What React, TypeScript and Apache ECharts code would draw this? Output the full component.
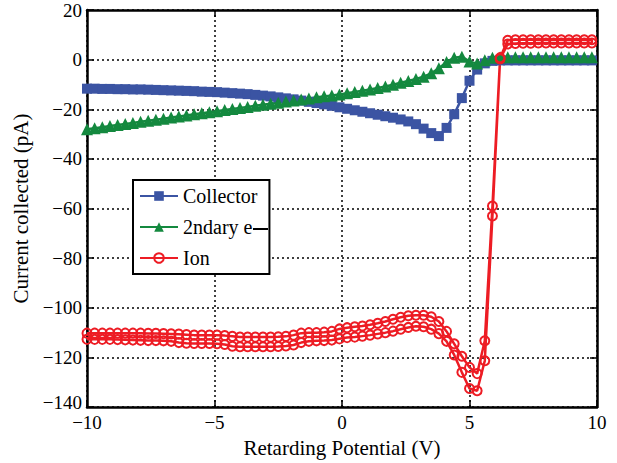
import React, { useEffect, useRef } from "react";
import * as echarts from "echarts";

const potential = [
  -10, -9.7, -9.4, -9.1, -8.8, -8.5, -8.2, -7.9, -7.6, -7.3,
  -7, -6.7, -6.4, -6.1, -5.8, -5.5, -5.2, -4.9, -4.6, -4.3,
  -4, -3.7, -3.4, -3.1, -2.8, -2.5, -2.2, -1.9, -1.6, -1.3,
  -1, -0.7, -0.4, -0.1, 0.2, 0.5, 0.8, 1.1, 1.4, 1.7,
  2, 2.3, 2.6, 2.9, 3.2, 3.5, 3.8, 4.1, 4.4, 4.7,
  5, 5.3, 5.6, 5.9, 6.2, 6.5, 6.8, 7.1, 7.4, 7.7,
  8, 8.3, 8.6, 8.9, 9.2, 9.5, 9.8,
];

const collector = [
  -11.7, -11.7, -11.8, -11.8, -11.9, -11.9, -12.0, -12.0, -12.1, -12.2,
  -12.3, -12.4, -12.5, -12.6, -12.7, -12.9, -13.0, -13.1, -13.3, -13.5,
  -13.7, -13.9, -14.2, -14.5, -14.8, -15.2, -15.6, -16.0, -16.5, -17.0,
  -17.5, -18.0, -18.6, -19.2, -19.8, -20.4, -21.0, -21.6, -22.2, -22.8,
  -23.4, -24.1, -24.9, -26.0, -27.8, -29.6, -30.8, -27.5, -22.0, -15.5,
  -8.5, -4.0, -1.5, -0.5, -0.3, -0.3, -0.3, -0.3, -0.3, -0.3,
  -0.3, -0.3, -0.3, -0.3, -0.3, -0.3, -0.3,
];

const secondary = [
  -28.0, -27.6, -27.2, -26.7, -26.3, -25.9, -25.5, -25.0, -24.6, -24.2,
  -23.8, -23.3, -22.9, -22.5, -22.0, -21.6, -21.2, -20.8, -20.3, -19.9,
  -19.5, -19.1, -18.6, -18.2, -17.8, -17.4, -16.9, -16.5, -16.1, -15.7,
  -15.2, -14.8, -14.4, -14.0, -13.5, -13.0, -12.5, -12.0, -11.4, -10.8,
  -10.1, -9.3, -8.6, -7.8, -6.9, -5.5, -3.5, -1.0, 0.8, 1.2,
  -0.8, -1.6, -0.2, 0.8, 1.0, 1.0, 1.0, 1.0, 1.0, 1.0,
  1.0, 1.0, 1.0, 1.0, 1.0, 1.0, 1.0,
];

const ionUpper = [
  -110.2, -110.2, -110.2, -110.2, -110.2, -110.2, -110.2, -110.2, -110.3, -110.3,
  -110.4, -110.5, -110.6, -110.8, -111.0, -111.0, -111.0, -111.0, -111.2, -111.5,
  -111.8, -111.8, -111.8, -111.8, -111.8, -111.7, -111.5, -111.0, -110.2, -110.0,
  -110.0, -109.8, -109.5, -108.5, -108.0, -107.6, -107.3, -106.8, -106.2, -105.5,
  -104.6, -103.8, -103.2, -103.0, -103.0, -103.6, -105.5, -109.5, -114.5, -119.5,
  -124.0, -126.5, -113.3, -59.0, 0.8, 7.8, 8.0, 8.0, 8.0, 8.0,
  8.0, 8.0, 8.0, 8.0, 8.0, 8.0, 8.0,
];

const ionLower = [
  -112.7, -112.7, -112.7, -112.7, -112.8, -112.9, -113.0, -113.1, -113.2, -113.2,
  -113.3, -113.5, -114.0, -114.3, -114.4, -114.4, -114.4, -114.5, -114.8, -115.5,
  -115.7, -115.7, -115.7, -115.7, -115.7, -115.6, -115.4, -115.0, -114.0, -113.5,
  -113.3, -113.2, -113.0, -112.5, -112.0, -111.8, -111.4, -111.0, -110.5, -110.0,
  -109.4, -108.6, -107.9, -107.4, -107.6, -108.6, -110.4, -113.5, -119.0, -126.0,
  -132.5, -133.4, -121.3, -63.0, 0.3, 6.3, 6.5, 6.6, 6.6, 6.7,
  6.7, 6.7, 6.7, 6.7, 6.7, 6.7, 6.7,
];

const seriesNames = ["Collector", "2ndary e", "Ion"];
const xTitle = "Retarding Potential (V)";
const yTitle = "Current collected (pA)";

const BLUE = "#3b54a3";
const GREEN = "#14893f";
const RED = "#ed1c24";
const FONT = "Liberation Serif";

const minus = (v: number) => (v < 0 ? "\u2212" + Math.abs(v) : String(v));
const yFmt = (v: number) => (v === -140 ? "{low|" + minus(v) + "}" : minus(v));

export default function App() {
  const ref = useRef<HTMLDivElement>(null);
  useEffect(() => {
    if (!ref.current) return;
    const chart = echarts.init(ref.current, undefined, { renderer: "svg" });
    const collectorData = potential.map((x, i) => [x, collector[i]]);
    const secondaryData = potential.map((x, i) => [x, secondary[i]]);
    const ionData = potential
      .map((x, i) => [x, ionLower[i]])
      .concat(potential.map((x, i) => [x, ionUpper[i]]).reverse());

    const splitLine = {
      show: true,
      lineStyle: { color: "#000", width: 1.5, type: [2, 3] as any },
    };
    const axisLine = { show: true, onZero: false, lineStyle: { color: "#000", width: 2.5 } };
    const axisTick = { show: true, inside: true, length: 7, lineStyle: { color: "#000", width: 1.5 } };

    chart.setOption({
      animation: false,
      backgroundColor: "#fff",
      textStyle: { fontFamily: FONT },
      grid: { left: 87, right: 20, top: 10, bottom: 49, containLabel: false },
      legend: {
        data: seriesNames,
        orient: "vertical",
        left: 133,
        top: 180,
        itemWidth: 38,
        itemHeight: 12,
        itemGap: 11,
        padding: [6, 12, 6, 6],
        borderColor: "#000",
        borderWidth: 2,
        backgroundColor: "#fff",
        textStyle: { fontFamily: FONT, fontSize: 20, color: "#000" },
      },
      xAxis: [
        {
          type: "value",
          min: -10,
          max: 10,
          interval: 5,
          name: xTitle,
          nameLocation: "middle",
          nameGap: 24,
          nameTextStyle: { fontFamily: FONT, fontSize: 21, color: "#000" },
          axisLine,
          axisTick,
          axisLabel: { fontFamily: FONT, fontSize: 19, color: "#000", margin: 6, formatter: minus },
          splitLine,
        },
        {
          type: "value",
          position: "top",
          min: -10,
          max: 10,
          interval: 5,
          axisLine,
          axisTick,
          axisLabel: { show: false },
          splitLine: { show: false },
        },
      ],
      yAxis: [
        {
          type: "value",
          min: -140,
          max: 20,
          interval: 20,
          name: yTitle,
          nameLocation: "middle",
          nameGap: 50,
          nameTextStyle: { fontFamily: FONT, fontSize: 21, color: "#000" },
          axisLine,
          axisTick,
          axisLabel: {
            fontFamily: FONT,
            fontSize: 19,
            color: "#000",
            margin: 5,
            formatter: yFmt,
            rich: {
              low: { fontFamily: FONT, fontSize: 19, color: "#000", padding: [0, 0, 9, 0] },
            },
          },
          splitLine,
        },
        {
          type: "value",
          position: "right",
          min: -140,
          max: 20,
          interval: 20,
          axisLine,
          axisTick,
          axisLabel: { show: false },
          splitLine: { show: false },
        },
      ],
      series: [
        {
          name: seriesNames[0],
          type: "line",
          data: collectorData,
          color: BLUE,
          symbol: "rect",
          symbolSize: 10,
          lineStyle: { color: BLUE, width: 2.5 },
          itemStyle: { color: BLUE },
        },
        {
          name: seriesNames[1],
          type: "line",
          data: secondaryData,
          color: GREEN,
          symbol: "triangle",
          symbolSize: 12,
          lineStyle: { color: GREEN, width: 2.5 },
          itemStyle: { color: GREEN },
        },
        {
          name: seriesNames[2],
          type: "line",
          data: ionData,
          color: RED,
          symbol: "circle",
          symbolSize: 9,
          lineStyle: { color: RED, width: 2.5 },
          itemStyle: { color: "rgba(255,255,255,0)", borderColor: RED, borderWidth: 2 },
        },
      ],
      graphic: [
        {
          type: "line",
          z: 100,
          shape: { x1: 253, y1: 229, x2: 268, y2: 229 },
          style: { stroke: "#000", lineWidth: 2 },
        },
      ],
    });
    return () => chart.dispose();
  }, []);
  return (
    <div
      ref={ref}
      style={{ position: "absolute", left: 0, top: 0, width: 617, height: 463 }}
    />
  );
}
